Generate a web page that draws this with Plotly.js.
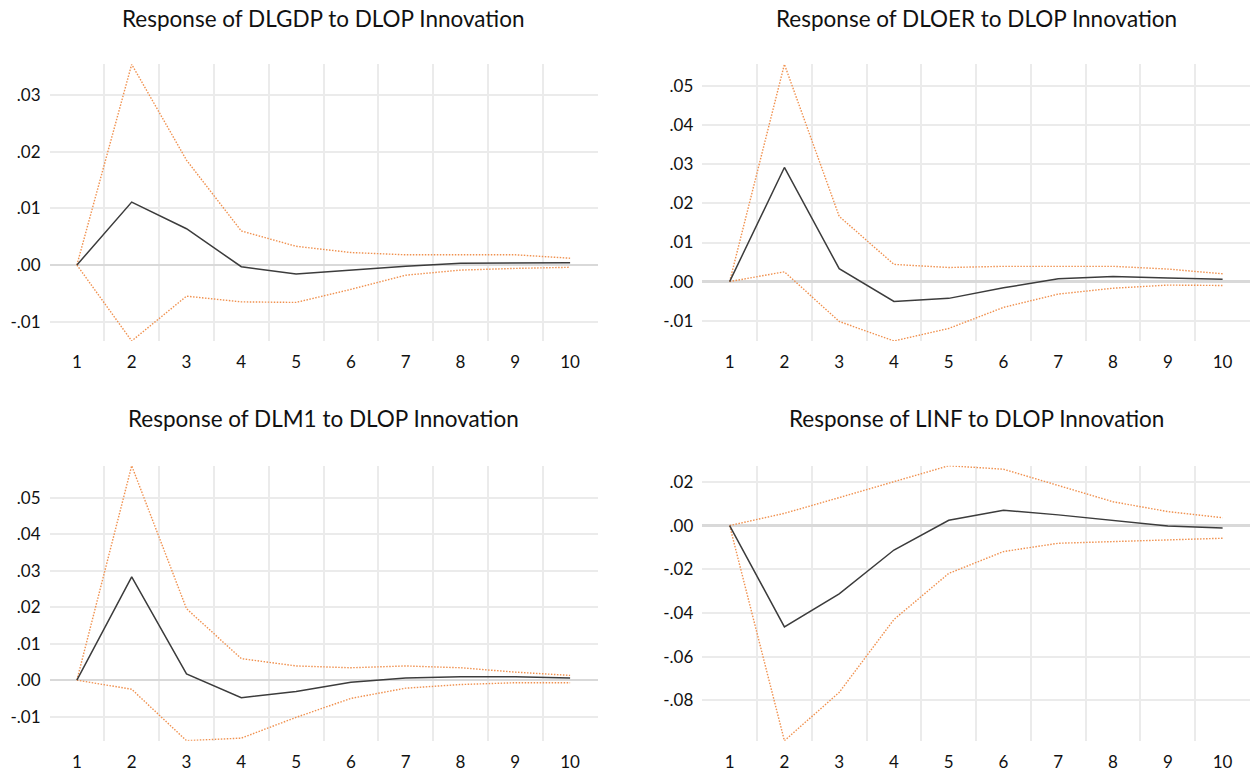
<!DOCTYPE html>
<html>
<head>
<meta charset="utf-8">
<script src="https://cdn.plot.ly/plotly-3.0.1.min.js"></script>
<style>
html,body{margin:0;padding:0;background:#fff;}
#chart{width:1250px;height:773px;}
</style>
</head>
<body>
<div id="chart"></div>
<script>
const periods = [1, 2, 3, 4, 5, 6, 7, 8, 9, 10];

const titles = [
  "Response of DLGDP to DLOP Innovation",
  "Response of DLOER to DLOP Innovation",
  "Response of DLM1 to DLOP Innovation",
  "Response of LINF to DLOP Innovation"
];

const dlgdpMean  = [0, 0.0111, 0.0064, -0.0003, -0.0016, -0.0009, -0.0002, 0.0003, 0.0004, 0.0004];
const dlgdpUpper = [0, 0.0354, 0.0185, 0.0060, 0.0033, 0.0022, 0.0018, 0.0018, 0.0018, 0.0012];
const dlgdpLower = [0, -0.0134, -0.0055, -0.0065, -0.0066, -0.0043, -0.0018, -0.0009, -0.0006, -0.0004];

const dloerMean  = [0, 0.0292, 0.0033, -0.0051, -0.0043, -0.0016, 0.0007, 0.0013, 0.0009, 0.0006];
const dloerUpper = [0, 0.0556, 0.0167, 0.0044, 0.0036, 0.0039, 0.0039, 0.0039, 0.0032, 0.0020];
const dloerLower = [0, 0.0025, -0.0102, -0.0152, -0.0120, -0.0066, -0.0032, -0.0017, -0.0009, -0.0010];

const dlm1Mean  = [0, 0.0283, 0.0017, -0.0048, -0.0031, -0.0006, 0.0006, 0.0009, 0.0009, 0.0006];
const dlm1Upper = [0, 0.0588, 0.0196, 0.0059, 0.0039, 0.0034, 0.0039, 0.0034, 0.0022, 0.0013];
const dlm1Lower = [0, -0.0025, -0.0166, -0.0159, -0.0102, -0.0050, -0.0022, -0.0012, -0.0007, -0.0007];

const linfMean  = [0, -0.0464, -0.0313, -0.0112, 0.0024, 0.0070, 0.0049, 0.0023, -0.0002, -0.0011];
const linfUpper = [0, 0.0056, 0.0128, 0.0200, 0.0274, 0.0258, 0.0182, 0.0109, 0.0064, 0.0036];
const linfLower = [0, -0.0985, -0.0764, -0.0430, -0.0219, -0.0119, -0.0081, -0.0073, -0.0067, -0.0058];

const yTickVals1 = [-0.01, 0, 0.01, 0.02, 0.03];
const yTickText1 = ["-.01", ".00", ".01", ".02", ".03"];
const yTickVals2 = [-0.01, 0, 0.01, 0.02, 0.03, 0.04, 0.05];
const yTickText2 = ["-.01", ".00", ".01", ".02", ".03", ".04", ".05"];
const yTickVals3 = [-0.01, 0, 0.01, 0.02, 0.03, 0.04, 0.05];
const yTickText3 = ["-.01", ".00", ".01", ".02", ".03", ".04", ".05"];
const yTickVals4 = [-0.08, -0.06, -0.04, -0.02, 0, 0.02];
const yTickText4 = ["-.08", "-.06", "-.04", "-.02", ".00", ".02"];

const panels = [
  {mean: dlgdpMean, up: dlgdpUpper, lo: dlgdpLower, tv: yTickVals1, tt: yTickText1},
  {mean: dloerMean, up: dloerUpper, lo: dloerLower, tv: yTickVals2, tt: yTickText2},
  {mean: dlm1Mean,  up: dlm1Upper,  lo: dlm1Lower,  tv: yTickVals3, tt: yTickText3},
  {mean: linfMean,  up: linfUpper,  lo: linfLower,  tv: yTickVals4, tt: yTickText4}
];

const FONT = "Lato, 'Open Sans', sans-serif";
const bandColor = "#F0914F";
const meanColor = "#3c3c3c";
const gridColor = "#ebebeb";

const xDomains = [[0.0396, 0.478], [0.5618, 1.0], [0.0396, 0.478], [0.5618, 1.0]];
const yDomains = [[0.5589, 0.9168], [0.5589, 0.9168], [0.0418, 0.3975], [0.0418, 0.3975]];
const titleY = [1 - 19/773, 1 - 19/773, 1 - 418/773, 1 - 418/773];

const gridVals = periods.slice(0, -1).map(p => p + 0.5);

const traces = [];
const layout = {
  width: 1250, height: 773,
  margin: {l: 0, r: 0, t: 0, b: 0},
  paper_bgcolor: "#fff", plot_bgcolor: "#fff",
  showlegend: false,
  font: {family: FONT, size: 17, color: "#111"},
  annotations: []
};

panels.forEach((p, i) => {
  const n = i === 0 ? "" : String(i + 1);
  const xa = "x" + n, ya = "y" + n;
  [p.up, p.lo].forEach(arr => {
    traces.push({x: periods, y: arr, xaxis: xa, yaxis: ya, type: "scatter", mode: "lines",
      line: {color: bandColor, width: 1.4, dash: "1.5px,1.5px"}, hoverinfo: "skip"});
  });
  traces.push({x: periods, y: p.mean, xaxis: xa, yaxis: ya, type: "scatter", mode: "lines",
    line: {color: meanColor, width: 1.5}});

  const yMin = Math.min(...p.lo), yMax = Math.max(...p.up);
  layout["xaxis" + n] = {
    domain: xDomains[i], anchor: ya,
    range: [0.5, 10.5], tickvals: periods, ticktext: periods.map(String),
    showgrid: false, zeroline: false, showline: false, ticks: "",
    ticklabelstandoff: 9,
    tickfont: {family: FONT, size: 17, color: "#111"},
    minor: {tickvals: gridVals, showgrid: true, gridcolor: gridColor, gridwidth: 2, ticks: ""},
    fixedrange: true
  };
  layout["yaxis" + n] = {
    domain: yDomains[i], anchor: xa,
    range: [yMin, yMax], tickvals: p.tv, ticktext: p.tt,
    showgrid: true, gridcolor: gridColor, gridwidth: 2,
    zeroline: true, zerolinecolor: "#d9d9d9", zerolinewidth: 2.5,
    showline: false, ticks: "", ticklabelstandoff: 8,
    tickfont: {family: FONT, size: 17, color: "#111"},
    fixedrange: true
  };
  layout.annotations.push({
    text: titles[i], xref: xa + " domain", x: 0.5, xanchor: "center",
    yref: "paper", y: titleY[i], yanchor: "middle", showarrow: false,
    font: {family: FONT, size: 22.5, color: "#111"}
  });
});

Plotly.newPlot("chart", traces, layout, {displayModeBar: false, staticPlot: true});
</script>
</body>
</html>
